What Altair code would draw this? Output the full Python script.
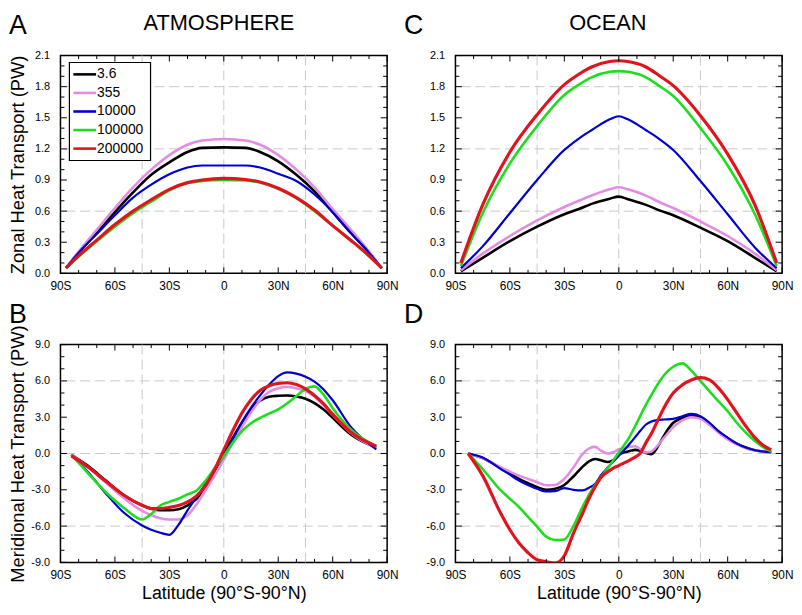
import altair as alt
import pandas as pd

FONT = "Liberation Sans"
W, H = 330, 220

series = ["3.6", "355", "10000", "100000", "200000"]
colors = ["#000000", "#E38CE3", "#0000CD", "#1EDC1E", "#E0141E"]
widths = [2.6, 2.6, 2.2, 2.6, 3.2]

x_major = [-90, -60, -30, 0, 30, 60, 90]
x_minor = [-80, -70, -50, -40, -20, -10, 10, 20, 40, 50, 70, 80]
x_grid = [-45, 0, 45]

zonal_major = [0.0, 0.3, 0.6, 0.9, 1.2, 1.5, 1.8, 2.1]
zonal_minor = [0.1, 0.2, 0.4, 0.5, 0.7, 0.8, 1.0, 1.1, 1.3, 1.4, 1.6, 1.7, 1.9, 2.0]
zonal_grid = [0.6, 1.2, 1.8]
merid_major = [-9, -6, -3, 0, 3, 6, 9]
merid_minor = [-8, -7, -5, -4, -2, -1, 1, 2, 4, 5, 7, 8]
merid_grid = [-6, 0, 6]

# Panel A: atmosphere, zonal heat transport
lat_a = [-87, -80, -70, -60, -50, -40, -30, -20, -12, 0, 12, 20, 30, 40, 50, 60, 70, 80, 87]
a_36 = [0.05, 0.20, 0.39, 0.59, 0.78, 0.95, 1.07, 1.17, 1.21, 1.215, 1.21, 1.17, 1.08, 0.95, 0.79, 0.59, 0.39, 0.20, 0.05]
a_355 = [0.05, 0.21, 0.42, 0.63, 0.83, 1.00, 1.14, 1.24, 1.28, 1.295, 1.28, 1.24, 1.14, 1.00, 0.83, 0.62, 0.42, 0.21, 0.05]
a_1e4 = [0.05, 0.20, 0.38, 0.56, 0.73, 0.855, 0.955, 1.02, 1.04, 1.04, 1.04, 1.02, 0.96, 0.89, 0.76, 0.59, 0.39, 0.20, 0.05]
a_1e5 = [0.05, 0.16, 0.31, 0.45, 0.58, 0.69, 0.80, 0.87, 0.89, 0.90, 0.895, 0.875, 0.815, 0.725, 0.60, 0.46, 0.315, 0.165, 0.05]
a_2e5 = [0.05, 0.17, 0.32, 0.47, 0.60, 0.71, 0.81, 0.875, 0.90, 0.915, 0.905, 0.88, 0.82, 0.73, 0.61, 0.46, 0.32, 0.17, 0.05]

# Panel C: ocean, zonal heat transport
lat_c = [-87, -75, -60, -45, -30, -22, -15, -5, 0, 5, 15, 22, 30, 45, 60, 75, 87]
c_36 = [0.02, 0.15, 0.31, 0.45, 0.57, 0.62, 0.67, 0.72, 0.74, 0.715, 0.66, 0.61, 0.56, 0.44, 0.31, 0.15, 0.02]
c_355 = [0.03, 0.19, 0.36, 0.51, 0.64, 0.70, 0.75, 0.81, 0.83, 0.81, 0.75, 0.69, 0.63, 0.50, 0.36, 0.19, 0.03]
c_1e4 = [0.05, 0.26, 0.58, 0.90, 1.19, 1.30, 1.38, 1.485, 1.515, 1.485, 1.38, 1.30, 1.19, 0.89, 0.57, 0.25, 0.05]
c_1e5 = [0.07, 0.58, 1.06, 1.42, 1.72, 1.82, 1.89, 1.943, 1.95, 1.943, 1.89, 1.81, 1.71, 1.40, 1.04, 0.57, 0.07]
c_2e5 = [0.10, 0.66, 1.17, 1.53, 1.82, 1.92, 1.99, 2.043, 2.05, 2.043, 1.99, 1.91, 1.81, 1.52, 1.15, 0.66, 0.10]

# Panel B: atmosphere, meridional heat transport
lat_b = [-84, -75, -65, -55, -45, -40, -35, -30, -25, -20, -15, -10, -5, 0, 5, 10, 15, 20, 25, 30, 35, 40, 45, 50, 55, 60, 70, 84]
b_36 = [-0.1, -1.0, -2.24, -3.46, -4.28, -4.55, -4.69, -4.69, -4.6, -4.28, -3.74, -2.78, -1.42, -0.05, 1.31, 2.54, 3.63, 4.36, 4.69, 4.77, 4.8, 4.72, 4.53, 4.17, 3.63, 2.95, 1.58, 0.49]
b_355 = [-0.1, -1.1, -2.4, -3.7, -4.75, -5.1, -5.35, -5.45, -5.45, -5.1, -4.2, -3.0, -1.8, -0.5, 0.9, 2.2, 3.4, 4.4, 5.1, 5.4, 5.5, 5.4, 5.15, 4.7, 4.0, 3.2, 1.7, 0.45]
b_1e4 = [-0.1, -1.5, -3.3, -4.9, -5.95, -6.3, -6.55, -6.72, -5.9, -4.7, -3.6, -2.5, -1.3, -0.2, 1.2, 2.6, 3.8, 4.8, 5.7, 6.4, 6.7, 6.6, 6.35, 5.95, 5.3, 4.4, 2.2, 0.35]
b_1e5 = [-0.1, -1.6, -3.2, -4.5, -5.45, -5.0, -4.3, -4.0, -3.74, -3.38, -3.05, -2.24, -1.2, -0.2, 0.9, 1.85, 2.5, 2.95, 3.3, 3.65, 4.15, 4.75, 5.35, 5.55, 4.85, 3.75, 2.0, 0.6]
b_2e5 = [-0.2, -1.1, -2.3, -3.45, -4.28, -4.55, -4.55, -4.45, -4.3, -4.0, -3.5, -2.65, -1.3, 0.3, 1.9, 3.35, 4.45, 5.2, 5.6, 5.8, 5.85, 5.7, 5.35, 4.8, 4.1, 3.25, 1.75, 0.6]

# Panel D: ocean, meridional heat transport
lat_d = [-83, -75, -65, -60, -55, -50, -45, -40, -35, -30, -25, -20, -16, -13, -10, -6, -3, 0, 3, 6, 9, 12, 15, 18, 22, 25, 30, 35, 40, 45, 50, 55, 60, 65, 70, 75, 80, 84]
d_36 = [0, -0.38, -1.2, -1.65, -2.1, -2.45, -2.78, -3.0, -2.92, -2.6, -1.9, -1.1, -0.6, -0.45, -0.55, -0.7, -0.55, -0.1, 0.1, 0.2, 0.3, 0.22, 0.05, -0.05, 0.7, 1.5, 2.54, 2.95, 3.16, 3.0, 2.45, 1.8, 1.25, 0.82, 0.49, 0.27, 0.15, 0.11]
d_355 = [0, -0.38, -1.15, -1.5, -1.83, -2.1, -2.37, -2.62, -2.6, -2.1, -1.15, -0.05, 0.45, 0.55, 0.25, 0.0, 0.1, 0.35, 0.45, 0.55, 0.6, 0.35, 0.08, 0.18, 0.76, 1.31, 2.18, 2.73, 3.0, 2.86, 2.35, 1.72, 1.17, 0.76, 0.44, 0.25, 0.15, 0.11]
d_1e4 = [0, -0.33, -1.28, -1.75, -2.24, -2.6, -2.92, -3.14, -3.11, -2.86, -3.0, -3.05, -2.8, -2.5, -1.83, -1.15, -0.65, -0.19, 0.3, 0.8, 1.35, 1.9, 2.4, 2.65, 2.78, 2.81, 2.86, 3.08, 3.27, 3.08, 2.54, 1.85, 1.31, 0.82, 0.49, 0.27, 0.15, 0.11]
d_1e5 = [0, -1.28, -3.05, -3.74, -4.42, -5.24, -6.05, -6.87, -7.15, -7.1, -6.0, -4.42, -3.3, -2.6, -1.96, -1.2, -0.55, 0.08, 0.7, 1.4, 2.25, 3.15, 4.04, 4.85, 5.85, 6.49, 7.17, 7.45, 6.85, 6.0, 5.13, 4.31, 3.49, 2.54, 1.72, 1.04, 0.49, 0.16]
d_2e5 = [0, -1.83, -4.96, -6.3, -7.4, -8.2, -8.78, -8.95, -9.05, -8.45, -6.6, -4.96, -3.6, -2.75, -2.0, -1.5, -1.2, -1.0, -0.78, -0.55, -0.3, 0.05, 0.9, 1.65, 2.9, 3.8, 5.0, 5.67, 6.08, 6.27, 6.08, 5.4, 4.45, 3.35, 2.26, 1.31, 0.63, 0.3]

X_LABEL_EXPR = "datum.value < 0 ? (-datum.value) + 'S' : (datum.value > 0 ? datum.value + 'N' : '0')"
Y_LABEL_EXPR = "replace(format(datum.value, '.1f'), '\u2212', '-')"


def x_axis(title):
    kw = dict(values=x_major, labelExpr=X_LABEL_EXPR, domain=False, ticks=False, tickSize=0,
              grid=False, labelFont=FONT, labelFontSize=12, labelColor="black",
              labelPadding=7, labelFlush=False, labelOverlap=False, labelBound=False)
    if title:
        kw.update(title=title, titleFont=FONT, titleFontSize=18, titleFontWeight="normal",
                  titleColor="black", titleY=36, titleBaseline="alphabetic")
    else:
        kw.update(title=None)
    return alt.Axis(**kw)


def y_axis(values, title):
    kw = dict(values=values, labelExpr=Y_LABEL_EXPR, domain=False, ticks=False, tickSize=0,
              grid=False, labelFont=FONT, labelFontSize=11, labelColor="black",
              labelPadding=11, labelFlush=False, labelOverlap=False, labelBound=False)
    if title:
        kw.update(title=title, titleFont=FONT, titleFontSize=18.5, titleFontWeight="normal",
                  titleColor="black", titleX=-37, titleY=110, titleAngle=270,
                  titleBaseline="alphabetic", titleAlign="center")
    else:
        kw.update(title=None)
    return alt.Axis(**kw)


def tick_rules(vals, chan, length, scale):
    base = alt.Chart(pd.DataFrame({"t": vals})).mark_rule(color="black", strokeWidth=1)
    if chan == "x":
        enc = alt.X("t:Q", scale=scale, axis=None)
        return [base.encode(x=enc, y=alt.value(H), y2=alt.value(H - length)),
                base.encode(x=enc, y=alt.value(0), y2=alt.value(length))]
    enc = alt.Y("t:Q", scale=scale, axis=None)
    return [base.encode(y=enc, x=alt.value(0), x2=alt.value(length)),
            base.encode(y=enc, x=alt.value(W), x2=alt.value(W - length))]


def text_layer(txt, size, x, y, align):
    return alt.Chart(pd.DataFrame({"t": [txt]})).mark_text(
        font=FONT, fontSize=size, align=align, baseline="alphabetic", color="black"
    ).encode(text="t:N", x=alt.value(x), y=alt.value(y))


def panel(lat, cols, ydom, ymaj, ymin, ygrid, letter, heading, head_x, xtitle, ytitle, legend):
    xs = alt.Scale(domain=[-90, 90], nice=False, zero=False)
    ys = alt.Scale(domain=ydom, nice=False, zero=False)
    grid_style = dict(color="#c8c8c8", strokeDash=[10, 5], strokeWidth=1)
    layers = [
        alt.Chart(pd.DataFrame({"g": x_grid})).mark_rule(**grid_style).encode(
            x=alt.X("g:Q", scale=xs, axis=x_axis(xtitle))),
        alt.Chart(pd.DataFrame({"g": ygrid})).mark_rule(**grid_style).encode(
            y=alt.Y("g:Q", scale=ys, axis=y_axis(ymaj, ytitle))),
    ]
    for s, vals, c, w in zip(series, cols, colors, widths):
        df = pd.DataFrame({"lat": lat, "val": vals})
        layers.append(alt.Chart(df).mark_line(color=c, strokeWidth=w, interpolate="monotone", clip=True).encode(
            x=alt.X("lat:Q", scale=xs, axis=None),
            y=alt.Y("val:Q", scale=ys, axis=None)))
    layers += tick_rules(x_major, "x", 6, xs)
    layers += tick_rules(x_minor, "x", 3.5, xs)
    layers += tick_rules(ymaj, "y", 6.5, ys)
    layers += tick_rules(ymin, "y", 4, ys)
    if legend:
        ldf = pd.DataFrame({"series": series})
        lscale = alt.Scale(type="point", domain=series, range=[19, 94], padding=0)
        cscale = alt.Scale(domain=series, range=colors)
        wscale = alt.Scale(domain=series, range=widths)
        layers.append(alt.Chart(pd.DataFrame({"b": [1]})).mark_rect(
            fill="white", stroke="black", strokeWidth=1.2).encode(
            x=alt.value(9), x2=alt.value(91), y=alt.value(7), y2=alt.value(106)))
        layers.append(alt.Chart(ldf).mark_rule().encode(
            y=alt.Y("series:N", scale=lscale, axis=None),
            x=alt.value(13), x2=alt.value(36),
            color=alt.Color("series:N", scale=cscale, legend=None),
            strokeWidth=alt.StrokeWidth("series:N", scale=wscale, legend=None)))
        layers.append(alt.Chart(ldf).mark_text(
            font=FONT, fontSize=14, align="left", baseline="middle", color="black").encode(
            y=alt.Y("series:N", scale=lscale, axis=None),
            x=alt.value(37), text="series:N"))
    layers.append(text_layer(letter, 27, -52, -21.5, "left"))
    if heading:
        layers.append(text_layer(heading, 22, head_x, -26, "center"))
    ch = alt.layer(*layers).properties(width=W, height=H).resolve_axis(x="independent", y="independent")
    if legend:
        ch = ch.resolve_scale(y="independent")
    return ch


pA = panel(lat_a, [a_36, a_355, a_1e4, a_1e5, a_2e5], [0, 2.1], zonal_major, zonal_minor, zonal_grid,
           "A", "ATMOSPHERE", 160, None, "Zonal Heat Transport (PW)", True)
pC = panel(lat_c, [c_36, c_355, c_1e4, c_1e5, c_2e5], [0, 2.1], zonal_major, zonal_minor, zonal_grid,
           "C", "OCEAN", 154, None, None, False)
pB = panel(lat_b, [b_36, b_355, b_1e4, b_1e5, b_2e5], [-9, 9], merid_major, merid_minor, merid_grid,
           "B", None, 0, "Latitude (90°S-90°N)", "Meridional Heat Transport (PW)", False)
pD = panel(lat_d, [d_36, d_355, d_1e4, d_1e5, d_2e5], [-9, 9], merid_major, merid_minor, merid_grid,
           "D", None, 0, "Latitude (90°S-90°N)", None, False)

chart = alt.concat(pA, pC, pB, pD, columns=2, spacing={"row": 72, "column": 69}, bounds="flush").properties(
    padding={"left": 0, "top": 0, "right": 0, "bottom": 0}
).configure_view(stroke="black", strokeWidth=1.5)

chart.save("out.html", embed_options={"renderer": "svg", "actions": False})
